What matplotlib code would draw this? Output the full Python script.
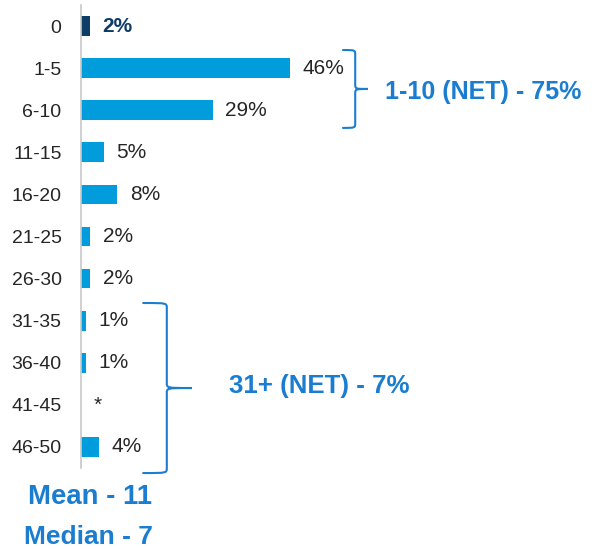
import numpy as np
import matplotlib
matplotlib.use("Agg")
import matplotlib.pyplot as plt
from matplotlib.path import Path
from matplotlib.patches import PathPatch

plt.rcParams['font.family'] = ['Liberation Sans', 'DejaVu Sans']

# Days bucket distribution
categories = ["0", "1-5", "6-10", "11-15", "16-20", "21-25", "26-30",
              "31-35", "36-40", "41-45", "46-50"]
values = [2, 46, 29, 5, 8, 2, 2, 1, 1, 0, 4]
value_labels = ["2%", "46%", "29%", "5%", "8%", "2%", "2%", "1%", "1%", "*", "4%"]

net_groups = [("1-10 (NET) - 75%", 1, 2), ("31+ (NET) - 7%", 7, 10)]
summary = ["Mean - 11", "Median - 7"]

LIGHT = "#009cdb"
DARK = "#0d3c66"
ACCENT = "#1a7dd0"
TEXT = "#262626"

W, H = 596, 549
fig = plt.figure(figsize=(W / 100, H / 100), dpi=100)
ax = fig.add_axes([81 / W, 81 / H, 454 / W, 463 / H])

y = np.arange(len(categories))
colors = [DARK] + [LIGHT] * (len(categories) - 1)
ax.barh(y, values, height=0.47, color=colors)

for i, (v, lab) in enumerate(zip(values, value_labels)):
    first = i == 0
    ax.annotate(lab, (v, i), xytext=(9, 0), textcoords="offset points",
                ha="left", va="center", fontsize=15,
                color=DARK if first else TEXT,
                fontweight="bold" if first else "normal")

ax.set_xlim(0, 100)
ax.set_ylim(len(categories) - 0.5, -0.5)
ax.set_yticks(y)
ax.set_yticklabels(categories, fontsize=14, color=TEXT)
ax.tick_params(axis="y", length=0, pad=14)
ax.set_xticks([])
for s in ["top", "right", "bottom"]:
    ax.spines[s].set_visible(False)
ax.spines["left"].set_color("#c8c8c8")
ax.spines["left"].set_linewidth(1.2)


def brace(ax, x0, xv, xt, y0, y1, ry=0.12):
    ym = (y0 + y1) / 2
    verts = [(x0, y0),
             (xv, y0), (xv, y0), (xv, y0 + ry),
             (xv, ym - ry),
             (xv, ym), (xv, ym), (xt, ym),
             (xv, ym), (xv, ym), (xv, ym + ry),
             (xv, y1 - ry),
             (xv, y1), (xv, y1), (x0, y1)]
    codes = ([Path.MOVETO] + [Path.CURVE4] * 3 + [Path.LINETO] +
             [Path.CURVE4] * 3 + [Path.CURVE4] * 3 + [Path.LINETO] +
             [Path.CURVE4] * 3)
    ax.add_patch(PathPatch(Path(verts, codes), fill=False, edgecolor=ACCENT,
                           lw=1.5, clip_on=False, capstyle="round"))
    return ym


# brace geometry for each NET group: (left end, spine, tip, label x, label dy)
brace_x = [(57.7, 60.4, 63.2, 67.0, 0.08), (13.7, 18.9, 24.4, 32.5, -0.05)]
brace_y = [(-0.43, 0.42), (-0.42, 0.62)]
sizes = [18, 18.6]
for (label, a, b), (x0, xv, xt, xl, dy), (da, db), fs in zip(net_groups, brace_x, brace_y, sizes):
    ym = brace(ax, x0, xv, xt, a + da, b + db)
    ax.text(xl, ym + dy, label, ha="left", va="center", fontsize=fs,
            fontweight="bold", color=ACCENT)

fig.text(90 / W, 1 - 497 / H, summary[0], ha="center", va="center",
         fontsize=19.8, fontweight="bold", color=ACCENT)
fig.text(88 / W, 1 - 537 / H, summary[1], ha="center", va="center",
         fontsize=19, fontweight="bold", color=ACCENT)

fig.savefig("out.png", dpi=100, facecolor="white")
